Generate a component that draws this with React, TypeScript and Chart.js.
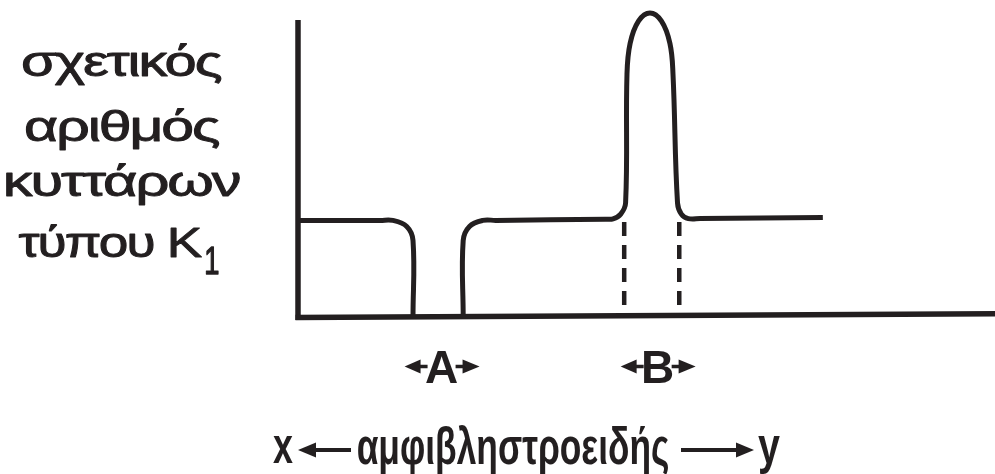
import React, { useEffect, useRef } from "react";
import { Chart, registerables } from "chart.js";

Chart.register(...registerables);

// position along the retina (0..100) and relative number of K1 cells
const positionX = [
  0, 11.8, 13.6, 15.6, 16.5, 16.5,
  20,
  23.7, 23.7, 24.6, 26.5, 28.4,
  44.1, 45.2, 46.3, 47.0, 47.2, 47.65, 48.85, 50.5, 52.15, 53.36, 53.8, 54.45, 55.0, 56.0, 57.7, 75.3,
];
const cellCount = [
  32.2, 32.2, 32.2, 30.2, 25.5, 0,
  null,
  0, 25.5, 30.2, 32.2, 32.2,
  32.6, 32.7, 34.3, 38.0, 81.0, 91.2, 98.6, 101.3, 98.6, 91.2, 81.0, 38.0, 34.3, 32.8, 32.8, 33.2,
];

// boundaries of region B (dashed markers)
const markerX = [46.8, 54.7];
const markerRange = [31.7, 4];

// axis extent
const yAxisTop = 99;

// texts
const yLabelLines = ["σχετικός", "αριθμός", "κυττάρων", "τύπου K"];
const yLabelSub = "1";
const regionLabels = ["A", "B"];
const regionCenters = [20.6, 51.6];
const xLabelLeft = "x";
const xLabelMain = "αμφιβληστροειδής";
const xLabelRight = "y";

const INK = "#231f20";
const FONT = '"Liberation Sans", Arial, sans-serif';

function arrowHead(ctx: CanvasRenderingContext2D, tipX: number, y: number, dir: number, len: number, half: number) {
  ctx.beginPath();
  ctx.moveTo(tipX, y);
  ctx.lineTo(tipX - dir * len, y - half);
  ctx.lineTo(tipX - dir * len, y + half);
  ctx.closePath();
  ctx.fill();
}

// draws text so that its ink spans inkLeft..inkRight horizontally
function fitText(ctx: CanvasRenderingContext2D, text: string, inkLeft: number, inkRight: number, baseline: number, extra = 0) {
  ctx.textAlign = "left";
  const m = ctx.measureText(text);
  const inkW = m.actualBoundingBoxLeft + m.actualBoundingBoxRight;
  const s = (inkRight - inkLeft - extra) / inkW;
  ctx.save();
  ctx.translate(inkLeft + extra / 2, baseline);
  ctx.scale(s, 1);
  ctx.fillText(text, m.actualBoundingBoxLeft, 0);
  if (extra > 0) {
    ctx.lineWidth = extra;
    ctx.lineJoin = "round";
    ctx.strokeText(text, m.actualBoundingBoxLeft, 0);
  }
  ctx.restore();
}

const annotations = {
  id: "annotations",
  beforeDatasetsDraw(chart: any) {
    const ctx: CanvasRenderingContext2D = chart.ctx;
    const { left } = chart.chartArea;
    const ys = chart.scales.y;
    ctx.save();
    ctx.strokeStyle = INK;
    ctx.lineWidth = 5.5;
    ctx.lineCap = "butt";
    ctx.beginPath();
    ctx.moveTo(left, ys.getPixelForValue(yAxisTop));
    ctx.lineTo(left, ys.getPixelForValue(0) + 3);
    ctx.stroke();
    ctx.beginPath();
    ctx.moveTo(left - 2.5, ys.getPixelForValue(0) + 0.5);
    ctx.lineTo(chart.width, ys.getPixelForValue(0) - 3.3);
    ctx.stroke();
    ctx.restore();
  },
  afterDraw(chart: any) {
    const ctx: CanvasRenderingContext2D = chart.ctx;
    const xs = chart.scales.x;
    ctx.save();
    ctx.fillStyle = INK;
    ctx.strokeStyle = INK;
    ctx.textBaseline = "alphabetic";

    // y label
    ctx.font = "43px " + FONT;
    (ctx as any).letterSpacing = "-1.5px";
    fitText(ctx, yLabelLines[0], 22, 222, 76, 0.9);
    fitText(ctx, yLabelLines[1], 25, 220, 141, 0.9);
    fitText(ctx, yLabelLines[2], 5, 240, 196, 0.9);
    fitText(ctx, yLabelLines[3], 18, 203, 257, 0.9);
    (ctx as any).letterSpacing = "0px";
    ctx.font = "39px " + FONT;
    fitText(ctx, yLabelSub, 205, 219, 274, 1.4);

    // region labels with small arrows
    ctx.font = "bold 46px " + FONT;
    ctx.lineWidth = 3.5;
    for (let i = 0; i < regionLabels.length; i++) {
      const cx = xs.getPixelForValue(regionCenters[i]);
      ctx.textAlign = "center";
      ctx.fillText(regionLabels[i], cx, 383);
      const y = 366.5;
      const lTip = cx - 37;
      const rTip = cx + 38;
      arrowHead(ctx, lTip, y, -1, 16, 7);
      arrowHead(ctx, rTip, y, 1, 17, 7);
      ctx.beginPath();
      ctx.moveTo(lTip + 14, y);
      ctx.lineTo(cx - 14, y);
      ctx.moveTo(rTip - 15, y);
      ctx.lineTo(cx + 14, y);
      ctx.stroke();
    }

    // bottom label
    ctx.font = "bold 52px " + FONT;
    fitText(ctx, xLabelLeft, 273, 293, 463);
    fitText(ctx, xLabelRight, 758, 780, 463);
    fitText(ctx, xLabelMain, 358, 668, 464);
    // long arrows
    ctx.lineWidth = 4;
    const ay = 450;
    ctx.beginPath();
    ctx.moveTo(312, ay);
    ctx.lineTo(351, ay);
    ctx.moveTo(681, ay);
    ctx.lineTo(740, ay);
    ctx.stroke();
    arrowHead(ctx, 298, ay, -1, 18, 7.5);
    arrowHead(ctx, 754, ay, 1, 18, 7.5);
    ctx.restore();
  },
};

export default function App() {
  const ref = useRef<HTMLCanvasElement | null>(null);
  useEffect(() => {
    document.body.style.margin = "0";
    const canvas = ref.current;
    if (!canvas) return;
    const curve = positionX.map((x, i) => ({ x, y: cellCount[i] }));
    const markers = markerX.map((mx) => ({
      type: "line" as const,
      data: markerRange.map((y) => ({ x: mx, y })),
      borderColor: INK,
      borderWidth: 4.5,
      borderDash: [14, 9],
      pointRadius: 0,
      tension: 0,
      clip: false as any,
    }));
    const chart = new Chart(canvas, {
      type: "line",
      data: {
        datasets: [
          {
            data: curve as any,
            borderColor: INK,
            borderWidth: 5,
            borderJoinStyle: "round",
            pointRadius: 0,
            tension: 0.4,
            spanGaps: false,
            fill: false,
            clip: false as any,
          },
          ...(markers as any),
        ],
      },
      options: {
        responsive: false,
        animation: false,
        events: [],
        layout: { padding: { left: 298, right: 0, top: 2, bottom: 157 } },
        plugins: { legend: { display: false }, tooltip: { enabled: false } },
        scales: {
          x: { type: "linear", min: 0, max: 100, display: false },
          y: { type: "linear", min: 0, max: 105, display: false },
        },
      },
      plugins: [annotations],
    });
    return () => chart.destroy();
  }, []);
  return (
    <div style={{ width: 995, height: 474, background: "#fff" }}>
      <canvas ref={ref} width={995} height={474} style={{ display: "block" }} />
    </div>
  );
}
